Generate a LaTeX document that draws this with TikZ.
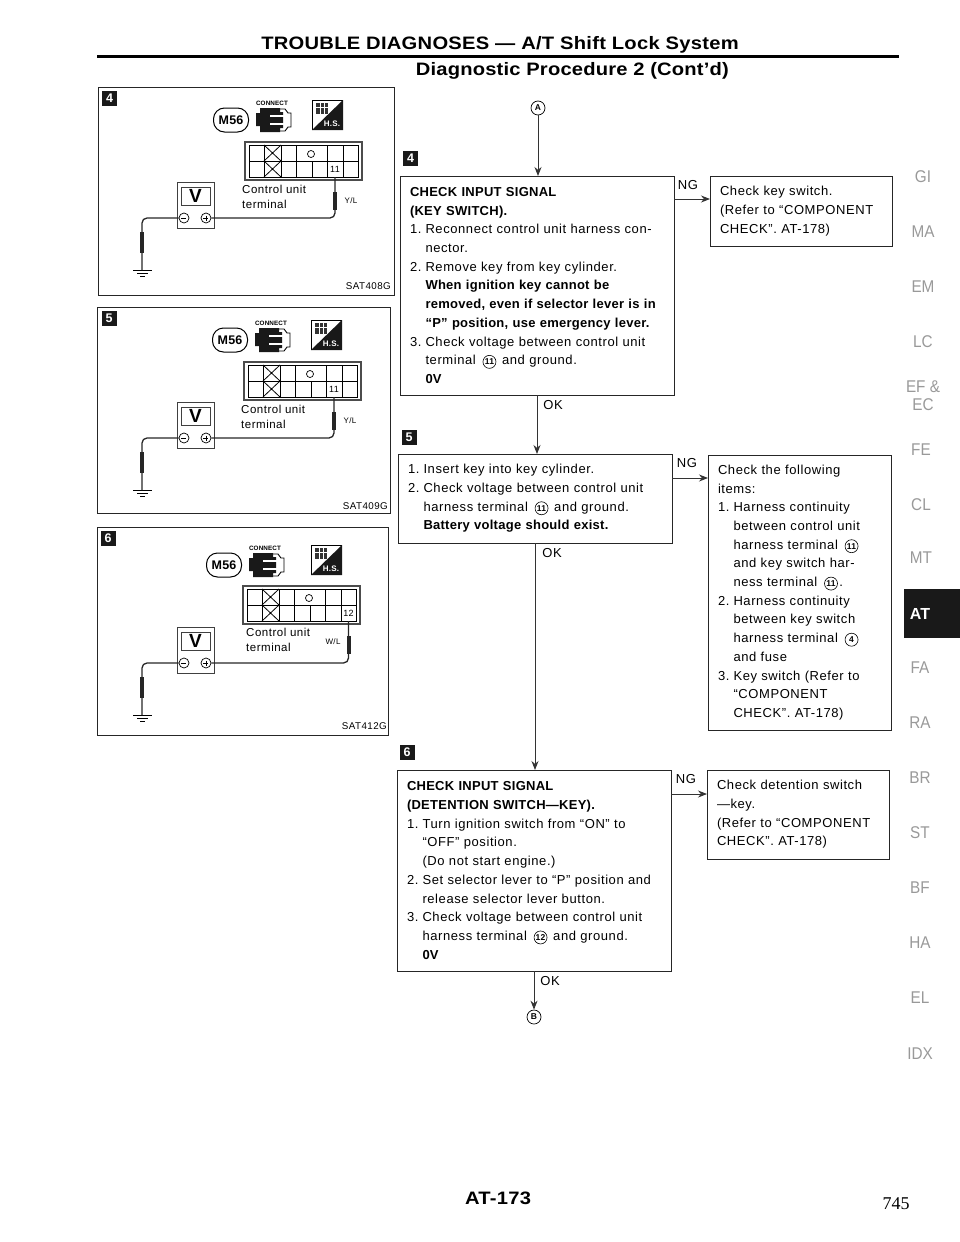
\documentclass[tikz,border=0pt]{standalone}
\usepackage{fontspec}
\setmainfont{Liberation Sans}[LetterSpace=4.5, BoldFeatures={LetterSpace=2}]
\newfontfamily\headfont{Liberation Sans}[FakeStretch=1.12, LetterSpace=1.5]
\newfontfamily\subfont{Liberation Sans}[FakeStretch=1.12, LetterSpace=1]
\newfontfamily\tabfont{Liberation Sans}[FakeStretch=0.9]
\newfontfamily\pagefont{Liberation Serif}
\usepackage{tikz}
\usetikzlibrary{arrows.meta, positioning, calc}
\tikzstyle{arrow}=[-{Stealth[length=9pt,width=7pt]}, line width=0.9pt, color=black!80]
\tikzstyle{wire}=[line width=1.3pt, rounded corners=5pt, color=black!85]
\tikzstyle{probe}=[line width=4pt, color=black!85]

\newcommand{\lead}{\hspace*{5pt}}
\newcommand{\itm}[1]{\hspace*{5pt}\makebox[15.5pt][l]{#1}}
\newcommand{\cont}{\hspace*{20.5pt}}
\newcommand{\cnum}[1]{\hspace{2.5pt}\tikz[baseline=(cn.base)]\node[circle, draw, line width=0.6pt, inner sep=0pt, minimum size=13pt, font=\fontsize{8.5}{9}\selectfont\bfseries] (cn) {#1};\hspace{1.5pt}}

\newcommand{\panelicons}[4]{
\begin{scope}[shift={(#2,#3)}]
\node[pillbox] (#1-pill) at (231,120) {M56};
\node[font=\fontsize{6.3}{7}\selectfont\bfseries, inner sep=0pt] (#1-connect) at (272,103) {CONNECT};
\fill[black!90] (256,113) -- (260,113) -- (260,108) -- (280,108) -- (280,112) -- (283,112) -- (283,128) -- (280,128) -- (280,132) -- (260,132) -- (260,126) -- (256,126) -- cycle;
\draw[white, line width=2.5pt] (270,116) -- (284,116) (270,124) -- (284,124);
\draw[line width=0.9pt] (280,109) -- (285,109) -- (288,113) -- (291,113) -- (291,127) -- (288,127) -- (285,131) -- (280,131);
\end{scope}
\begin{scope}[shift={(#4,#3)}]
\draw[line width=0.6pt] (312,130) -- (312,100) -- (343,100);
\fill[black!90] (343,100) -- (343,130) -- (312,130) -- cycle;
\fill[black!80] (316,103) rectangle (328,114);
\draw[white, line width=0.6pt] (316,107) -- (328,107) (320,103) -- (320,114) (324,103) -- (324,114);
\node[font=\fontsize{8}{8}\selectfont\bfseries, text=white, inner sep=0pt] (#1-hs) at (332,124) {H.S.};
\end{scope}
}

\newcommand{\conngrid}[5]{
\begin{scope}[shift={(#2,#3)}]
\draw[line width=1.1pt, color=black!70] (245,142) rectangle (362,180);
\draw[line width=0.8pt] (249,145) rectangle (358,177);
\draw[line width=0.8pt] (249,161) -- (358,161);
\foreach \xa in {264,281,296,327,343} {\draw[line width=0.8pt] (\xa,145) -- (\xa,161);}
\foreach \xa in {264,281,296,312,327,343} {\draw[line width=0.8pt] (\xa,161) -- (\xa,177);}
\draw[line width=0.8pt] (264,145) -- (281,161) (281,145) -- (264,161) (264,161) -- (281,177) (281,161) -- (264,177);
\node[circle, draw, line width=0.7pt, minimum size=7pt, inner sep=0pt] (#1-open) at (311,154) {};
\node[font=\fontsize{9}{9}\selectfont, minimum width=15pt, minimum height=16pt, inner sep=0pt] (#1-term) at (#4,169) {#5};
\end{scope}
\draw[wire] (#1-term.south) |- (#1-plus.east);
\draw[probe] ($(#1-term.south)+(0,15)$) -- ++(0,18);
}

\newcommand{\metergroup}[2]{
\begin{scope}[shift={(0,#2)}]
\node[meterbox, minimum width=37pt, minimum height=46pt] (#1-meter) at (195.5,205) {};
\node[meterbox, line width=1pt, minimum width=29pt, minimum height=18pt, font=\fontsize{19}{19}\selectfont\bfseries] (#1-disp) at (195.5,196) {V};
\node[termcirc] (#1-minus) at (184,218) {};
\node[termcirc] (#1-plus) at (206,218) {};
\draw[line width=0.7pt] (#1-minus.west) ++(2.5,0) -- ++(5,0);
\draw[line width=0.7pt] (#1-plus.west) ++(2.5,0) -- ++(5,0) (#1-plus.center) ++(0,-2.5) -- ++(0,5);
\coordinate (#1-gnd) at (142,270);
\draw[line width=1pt] (133,270) -- (152,270) (137,273) -- (148,273) (140,276) -- (145,276);
\end{scope}
\draw[wire] (#1-minus.west) -| (#1-gnd);
\draw[probe] ($(#1-gnd)+(0,-38)$) -- ++(0,21);
}

\begin{document}
\begin{tikzpicture}[x=1pt, y=-1pt,
  panelframe/.style={rectangle, draw=black!85, line width=1pt, anchor=north west, outer sep=0pt, inner sep=0pt},
  numtag/.style={rectangle, fill=black!90, text=white, minimum size=15pt, inner sep=0pt, font=\fontsize{12.5}{13}\selectfont\bfseries},
  pillbox/.style={rectangle, rounded corners=11pt, draw, line width=1pt, minimum width=35pt, minimum height=24pt, inner sep=0pt, font=\fontsize{12.5}{13}\selectfont\bfseries},
  meterbox/.style={rectangle, draw=black!75, line width=0.7pt, inner sep=0pt, outer sep=0pt},
  termcirc/.style={circle, draw, line width=0.7pt, minimum size=10pt, inner sep=0pt},
  unitnote/.style={font=\fontsize{11.5}{15}\selectfont, align=left, anchor=north west, inner sep=0pt},
  wirenote/.style={font=\fontsize{8}{9}\selectfont, inner sep=0pt},
  satcode/.style={font=\fontsize{9.8}{10}\selectfont, inner sep=0pt, anchor=east},
  flowbox/.style={rectangle, draw=black!85, line width=1pt, anchor=north west, outer sep=0pt, inner xsep=5pt, inner ysep=0pt, align=left, font=\fontsize{13}{18.7}\selectfont},
  flag/.style={font=\fontsize{13}{14}\selectfont, inner sep=0pt},
  refmark/.style={circle, draw, line width=0.7pt, minimum size=14pt, inner sep=0pt, font=\fontsize{8.5}{9}\selectfont\bfseries},
  sidetab/.style={font=\tabfont\fontsize{17}{18}\selectfont, text=black!40, inner sep=0pt, align=center}
]
\useasboundingbox (0,0) rectangle (960,1242);

\node[font=\headfont\fontsize{18}{18}\selectfont\bfseries, inner sep=0pt, anchor=base] (title) at (500,49) {TROUBLE DIAGNOSES — A/T Shift Lock System};
\node[font=\subfont\fontsize{18}{18}\selectfont\bfseries, inner sep=0pt, anchor=base east] (subtitle) at (729,75) {Diagnostic Procedure 2 (Cont’d)};
\coordinate (ruleL) at (97,56);
\coordinate (ruleR) at (899,56);
\draw[line width=3pt] (ruleL) -- (ruleR);

\node[panelframe, minimum width=296pt, minimum height=208pt] (frameA) at (98,87) {};
\node[panelframe, minimum width=293pt, minimum height=206pt] (frameB) at (97,307) {};
\node[panelframe, minimum width=291pt, minimum height=208pt] (frameC) at (97,527) {};
\node[numtag] (tagA) at (109.5,98.5) {4};
\node[numtag] (tagB) at (109,318) {5};
\node[numtag] (tagC) at (108,538) {6};

\panelicons{pa}{0}{0}{0}
\panelicons{pb}{-1}{220}{-1}
\panelicons{pc}{-7}{445}{-1}
\metergroup{pa}{0}
\metergroup{pb}{220}
\metergroup{pc}{445}
\conngrid{pa}{0}{0}{335}{11}
\conngrid{pb}{-1}{220}{335}{11}
\conngrid{pc}{-2}{444}{350.5}{12}

\node[unitnote] (noteA) at (242,185) {Control unit\\terminal};
\node[unitnote] (noteB) at (241,405) {Control unit\\terminal};
\node[unitnote] (noteC) at (246,628) {Control unit\\terminal};
\node[wirenote] (wireA) at (351,201) {Y/L};
\node[wirenote] (wireB) at (350,421) {Y/L};
\node[wirenote] (wireC) at (333,642) {W/L};
\node[satcode] (satA) at (391,286) {SAT408G};
\node[satcode] (satB) at (388,506) {SAT409G};
\node[satcode] (satC) at (387,726) {SAT412G};

\node[refmark] (markA) at (538,108) {A};
\node[numtag] (tagD) at (410.5,158.5) {4};
\node[flowbox, minimum width=274pt, minimum height=219pt, text width=264pt] (inputkey) at (400,176) {%
\lead\textbf{CHECK INPUT SIGNAL}\\
\lead\textbf{(KEY SWITCH).}\\
\itm{1.}Reconnect control unit harness con-\\
\cont nector.\\
\itm{2.}Remove key from key cylinder.\\
\cont\textbf{When ignition key cannot be}\\
\cont\textbf{removed, even if selector lever is in}\\
\cont\textbf{“P” position, use emergency lever.}\\
\itm{3.}Check voltage between control unit\\
\cont terminal \cnum{11} and ground.\\
\cont\textbf{0V}};
\node[flowbox, minimum width=182pt, minimum height=70pt, text width=172pt] (keycheck) at (710,176) {%
\lead Check key switch.\\
\lead(Refer to “COMPONENT\\
\lead CHECK”. AT-178)};

\node[numtag] (tagE) at (409,437) {5};
\node[flowbox, minimum width=274pt, minimum height=89pt, text width=264pt] (batt) at (398,454) {%
\itm{1.}Insert key into key cylinder.\\
\itm{2.}Check voltage between control unit\\
\cont harness terminal \cnum{11} and ground.\\
\cont\textbf{Battery voltage should exist.}};
\node[flowbox, minimum width=183pt, minimum height=275pt, text width=173pt] (items) at (708,455) {%
\lead Check the following\\
\lead items:\\
\itm{1.}Harness continuity\\
\cont between control unit\\
\cont harness terminal \cnum{11}\\
\cont and key switch har-\\
\cont ness terminal \cnum{11}.\\
\itm{2.}Harness continuity\\
\cont between key switch\\
\cont harness terminal \cnum{4}\\
\cont and fuse\\
\itm{3.}Key switch (Refer to\\
\cont “COMPONENT\\
\cont CHECK”. AT-178)};

\node[numtag] (tagF) at (407,752) {6};
\node[flowbox, minimum width=274pt, minimum height=201pt, text width=264pt] (detent) at (397,770) {%
\lead\textbf{CHECK INPUT SIGNAL}\\
\lead\textbf{(DETENTION SWITCH---KEY).}\\
\itm{1.}Turn ignition switch from “ON” to\\
\cont “OFF” position.\\
\cont(Do not start engine.)\\
\itm{2.}Set selector lever to “P” position and\\
\cont release selector lever button.\\
\itm{3.}Check voltage between control unit\\
\cont harness terminal \cnum{12} and ground.\\
\cont\textbf{0V}};
\node[flowbox, minimum width=182pt, minimum height=89pt, text width=172pt] (detcheck) at (707,770) {%
\lead Check detention switch\\
\lead---key.\\
\lead(Refer to “COMPONENT\\
\lead CHECK”. AT-178)};
\node[refmark] (markB) at (534,1017) {B};

\draw[arrow] (markA) -- (markA |- inputkey.north);
\draw[arrow] (inputkey.south) -- (inputkey.south |- batt.north);
\draw[arrow] (batt.south) -- (batt.south |- detent.north);
\draw[arrow] (detent.south) -- (markB);
\draw[arrow] ($(inputkey.north east)+(0,23)$) -- ($(keycheck.north west)+(0,23)$);
\draw[arrow] ($(batt.north east)+(0,24)$) -- ($(items.north west)+(0,23)$);
\draw[arrow] ($(detent.north east)+(0,24)$) -- ($(detcheck.north west)+(0,24)$);

\node[flag] (ngA) at (688,185) {NG};
\node[flag] (okA) at (553,405) {OK};
\node[flag] (ngB) at (687,463) {NG};
\node[flag] (okB) at (552,553) {OK};
\node[flag] (ngC) at (686,779) {NG};
\node[flag] (okC) at (550,981) {OK};

\node[sidetab] (tabGI) at (923,177) {GI};
\node[sidetab] (tabMA) at (923,232) {MA};
\node[sidetab] (tabEM) at (923,287) {EM};
\node[sidetab] (tabLC) at (923,342) {LC};
\node[sidetab] (tabEF) at (923,396) {EF \&\\EC};
\node[sidetab] (tabFE) at (921,450) {FE};
\node[sidetab] (tabCL) at (921,505) {CL};
\node[sidetab] (tabMT) at (921,558) {MT};
\node[rectangle, fill=black!90, minimum width=56pt, minimum height=49pt, inner sep=0pt, anchor=north west] (tabbox) at (904,589) {};
\node[font=\fontsize{16}{18}\selectfont\bfseries, text=white, inner sep=0pt] (tabAT) at (920,614) {AT};
\node[sidetab] (tabFA) at (920,668) {FA};
\node[sidetab] (tabRA) at (920,723) {RA};
\node[sidetab] (tabBR) at (920,778) {BR};
\node[sidetab] (tabST) at (920,833) {ST};
\node[sidetab] (tabBF) at (920,888) {BF};
\node[sidetab] (tabHA) at (920,943) {HA};
\node[sidetab] (tabEL) at (920,998) {EL};
\node[sidetab] (tabIDX) at (920,1054) {IDX};

\node[font=\headfont\fontsize{18}{18}\selectfont\bfseries, inner sep=0pt] (pageno) at (498,1198) {AT-173};
\node[font=\pagefont\fontsize{18}{18}\selectfont, inner sep=0pt] (sheetno) at (896,1204) {745};
\end{tikzpicture}
\end{document}
